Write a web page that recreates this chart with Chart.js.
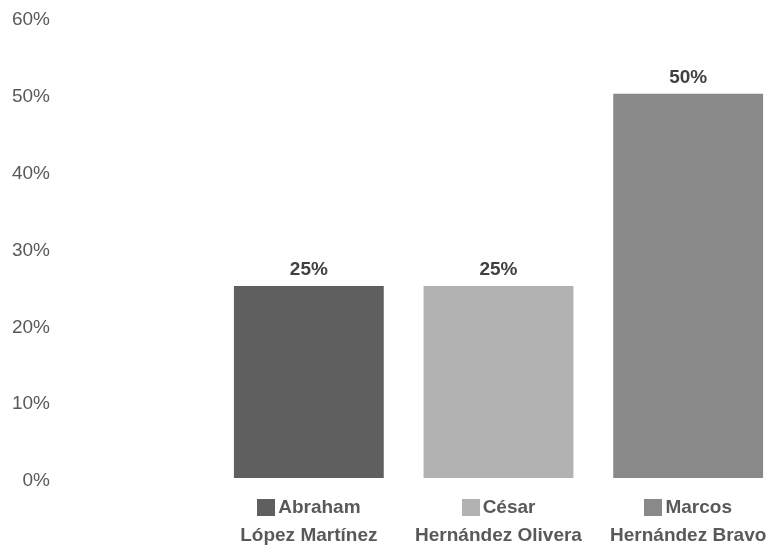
<!DOCTYPE html>
<html lang="es">
<head>
    <meta charset="UTF-8">
    <script src="https://cdn.jsdelivr.net/npm/chart.js"></script>
    <title>Participación</title>
</head>
<style>
    html, body {
        margin: 0;
        padding: 0;
        overflow: hidden;
        background: #ffffff;
    }
    canvas {
        display: block;
    }
</style>
<body>
    <canvas id="barChart" width="783" height="548"></canvas>
</body>
<script>
  const firstNames = ['Abraham', 'César', 'Marcos'];
  const lastNames = ['López Martínez', 'Hernández Olivera', 'Hernández Bravo'];
  const shares = [25, 25, 50];
  const yTicks = [0, 10, 20, 30, 40, 50, 60];
  const barColors = ['#5f5f5f', '#b2b2b2', '#898989'];

  const fontFamily = "'Liberation Sans', Arial, sans-serif";
  const gap = '    '; // room for the coloured square before the first line

  const labels = firstNames.map((f, i) => [gap + f, lastNames[i]]);

  const xPad = 16;
  const xFontSize = 19;
  const xLineHeight = 1.45;

  // value labels above the bars + coloured squares in front of the names
  const extras = {
    id: 'extras',
    afterDatasetsDraw(chart) {
      const ctx = chart.ctx;
      const meta = chart.getDatasetMeta(0);
      const xScale = chart.scales.x;
      ctx.save();
      ctx.textAlign = 'center';
      ctx.textBaseline = 'middle';
      meta.data.forEach((bar, i) => {
        ctx.font = 'bold 19px ' + fontFamily;
        ctx.fillStyle = '#404040';
        ctx.fillText(shares[i] + '%', bar.x, bar.y - 16);

        ctx.font = 'bold ' + xFontSize + 'px ' + fontFamily;
        const w = ctx.measureText(labels[i][0]).width;
        const cx = xScale.getPixelForValue(i);
        const left = cx - w / 2;
        const lineMid = xScale.top + xPad + xFontSize * xLineHeight / 2;
        ctx.fillStyle = barColors[i];
        ctx.fillRect(Math.round(left), Math.round(lineMid - 9), 18, 17);
      });
      ctx.restore();
    }
  };

  const data = {
    labels: labels,
    datasets: [{
      label: 'Participación',
      data: shares,
      backgroundColor: barColors,
      borderWidth: 0,
      barPercentage: 0.79,
      categoryPercentage: 1.0
    }]
  };

  const config = {
    type: 'bar',
    data: data,
    options: {
      responsive: false,
      animation: false,
      layout: { padding: { top: 17, right: 0, bottom: 0, left: 0 } },
      plugins: {
        legend: { display: false },
        tooltip: { enabled: false }
      },
      scales: {
        x: {
          grid: { display: false, drawTicks: false },
          border: { display: false },
          ticks: {
            padding: xPad,
            color: '#595959',
            maxRotation: 0,
            autoSkip: false,
            font: { family: fontFamily, size: xFontSize, weight: 'bold', lineHeight: xLineHeight }
          },
          afterFit: (scale) => { scale.height = 70; }
        },
        y: {
          min: yTicks[0],
          max: yTicks[yTicks.length - 1],
          grid: { display: false, drawTicks: false },
          border: { display: false },
          ticks: {
            stepSize: 10,
            padding: 164,
            labelOffset: 3,
            color: '#595959',
            font: { family: fontFamily, size: 19 },
            callback: (v) => v + '%'
          },
          afterFit: (scale) => {
            // the big label padding only pushes the labels left, not the plot down
            scale.width = 214;
            scale.paddingTop = 0;
            scale.paddingBottom = 0;
          }
        }
      }
    },
    plugins: [extras]
  };

  const barChart = new Chart(
    document.getElementById('barChart'),
    config
  );
</script>
</html>
